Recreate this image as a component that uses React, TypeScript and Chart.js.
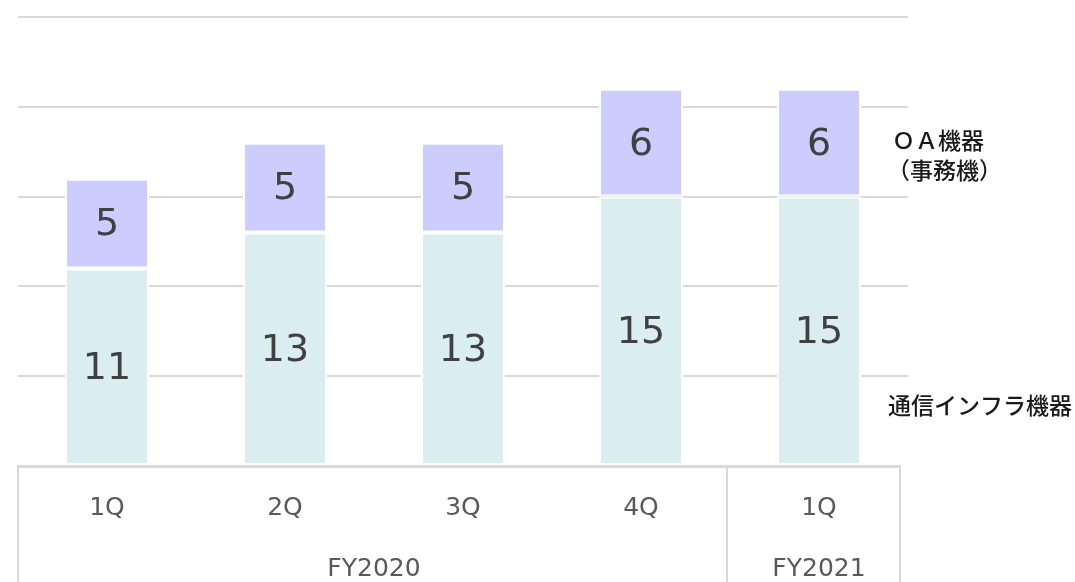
import React, { useEffect, useRef } from "react";
import { Chart, registerables } from "chart.js";

Chart.register(...registerables);

const quarters = ["1Q", "2Q", "3Q", "4Q", "1Q"];
const fyLabels = ["FY2020", "FY2021"];
const fyFirstIndex = [0, 4];
const fyLastIndex = [3, 4];

const infraValues = [11, 13, 13, 15, 15];
const oaValues = [5, 5, 5, 6, 6];

const infraName = ["通信インフラ機器"];
const oaName = ["ＯＡ機器", "（事務機）"];

const yMin = 0;
const yMax = 25;
const yStep = 5;

const GRID = "#d9d9d9";
const VALUE_FONT = "38px 'DejaVu Sans', sans-serif";
const AXIS_FONT = "25px 'DejaVu Sans', sans-serif";
const JP_FONT = "500 23px 'Noto Sans CJK JP', sans-serif";

const decorPlugin = {
  id: "decor",
  afterDatasetsDraw(chart: any) {
    const ctx = chart.ctx;
    ctx.save();
    ctx.font = VALUE_FONT;
    ctx.fillStyle = "#404040";
    ctx.textAlign = "center";
    ctx.textBaseline = "middle";
    chart.data.datasets.forEach((ds: any, di: number) => {
      const meta = chart.getDatasetMeta(di);
      meta.data.forEach((el: any, i: number) => {
        const y = (el.y + el.base) / 2 + 2;
        ctx.fillText(String(ds.data[i]), el.x, y);
      });
    });
    ctx.restore();
  },
  afterDraw(chart: any) {
    const ctx = chart.ctx;
    const xs = chart.scales.x;
    const area = chart.chartArea;
    const bottom = chart.height;
    const half = (xs.getPixelForValue(1) - xs.getPixelForValue(0)) / 2;
    const left = area.left;
    const right = xs.getPixelForValue(quarters.length - 1) + half - 8;
    const axisY = area.bottom;

    ctx.save();
    // vertical separators
    ctx.strokeStyle = GRID;
    ctx.lineWidth = 2;
    const seps = [left];
    for (let g = 1; g < fyFirstIndex.length; g++) {
      seps.push(xs.getPixelForValue(fyFirstIndex[g]) - half - 3);
    }
    seps.push(right);
    seps.forEach((x) => {
      ctx.beginPath();
      ctx.moveTo(x, axisY);
      ctx.lineTo(x, bottom);
      ctx.stroke();
    });
    // axis line
    ctx.lineWidth = 3;
    ctx.beginPath();
    ctx.moveTo(left - 1, axisY + 0.5);
    ctx.lineTo(right + 1, axisY + 0.5);
    ctx.stroke();

    // category labels
    ctx.font = AXIS_FONT;
    ctx.fillStyle = "#595959";
    ctx.textAlign = "center";
    ctx.textBaseline = "middle";
    quarters.forEach((q, i) => {
      ctx.fillText(q, xs.getPixelForValue(i), axisY + 42);
    });
    fyLabels.forEach((f, g) => {
      const cx = (xs.getPixelForValue(fyFirstIndex[g]) + xs.getPixelForValue(fyLastIndex[g])) / 2;
      ctx.fillText(f, cx, axisY + 103);
    });

    // series names
    ctx.font = JP_FONT;
    ctx.fillStyle = "#1a1a1a";
    ctx.textAlign = "left";
    const nx = area.right - 20;
    oaName.forEach((t, k) => ctx.fillText(t, nx + (k === 1 ? -1 : 4), 140 + k * 30));
    infraName.forEach((t) => ctx.fillText(t, nx, 405));
    ctx.restore();
  },
};

export default function App() {
  const ref = useRef<HTMLCanvasElement | null>(null);
  useEffect(() => {
    if (!ref.current) return;
    const chart = new Chart(ref.current, {
      type: "bar",
      data: {
        labels: quarters,
        datasets: [
          {
            label: infraName.join(""),
            data: infraValues,
            backgroundColor: "#daedef",
            borderColor: "#ffffff",
            borderWidth: 2,
            borderSkipped: false,
          },
          {
            label: oaName.join(""),
            data: oaValues,
            backgroundColor: "#ccccff",
            borderColor: "#ffffff",
            borderWidth: 2,
            borderSkipped: false,
          },
        ],
      },
      options: {
        responsive: false,
        maintainAspectRatio: false,
        animation: false,
        layout: { padding: { left: 18, right: 167, top: 17, bottom: 116 } },
        plugins: { legend: { display: false }, tooltip: { enabled: false } },
        datasets: { bar: { barPercentage: 0.472, categoryPercentage: 1 } },
        scales: {
          x: { stacked: true, display: false },
          y: {
            stacked: true,
            min: yMin,
            max: yMax,
            ticks: { display: false, stepSize: yStep },
            border: { display: false },
            grid: {
              color: (c: any) => (c.tick && c.tick.value === 0 ? "rgba(0,0,0,0)" : GRID),
              lineWidth: 2,
              drawTicks: false,
            },
          },
        },
      },
      plugins: [decorPlugin],
    } as any);
    return () => chart.destroy();
  }, []);
  return (
    <div style={{ position: "absolute", left: 0, top: 0, width: 1075, height: 582, background: "#fff" }}>
      <canvas ref={ref} width={1075} height={582} style={{ display: "block" }} />
    </div>
  );
}
